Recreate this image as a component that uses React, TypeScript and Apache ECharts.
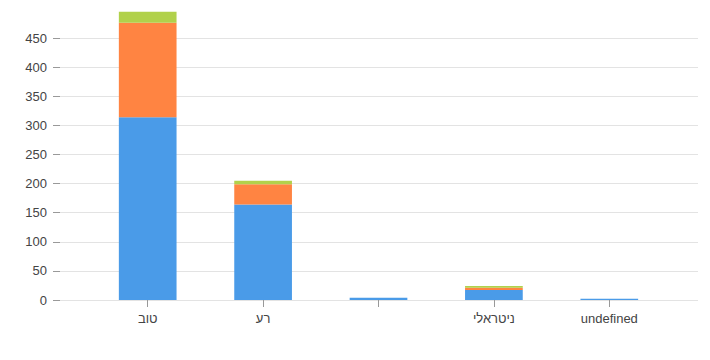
import React, { useEffect, useRef } from "react";
import * as echarts from "echarts";

const categories: string[] = ["טוב", "רע", "", "ניטראלי", "undefined"];
const seriesBlue: number[] = [314, 164, 4, 17, 2];
const seriesOrange: number[] = [162, 35, 0, 4, 0];
const seriesGreen: number[] = [19, 6, 0, 3, 0];
const yMax = 450;
const yInterval = 50;

export default function App() {
  const ref = useRef<HTMLDivElement>(null);
  useEffect(() => {
    if (!ref.current) return;
    const chart = echarts.init(ref.current, undefined, { renderer: "svg" });
    const font = "Arial, 'Liberation Sans', sans-serif";
    const barCommon = {
      type: "bar" as const,
      stack: "total",
      xAxisIndex: 1,
      yAxisIndex: 1,
      barWidth: "50%",
      clip: false,
    };
    chart.setOption({
      animation: false,
      grid: [
        { left: 52, right: 4, top: 30, bottom: 52 },
        { left: 82, right: 35, top: 30, bottom: 52 },
      ],
      xAxis: [
        { type: "value", gridIndex: 0, show: false, min: 0, max: 1 },
        {
          type: "category",
          gridIndex: 1,
          data: categories,
          axisLine: { show: false },
          axisTick: {
            show: true,
            alignWithLabel: true,
            length: 7,
            lineStyle: { color: "#999" },
          },
          axisLabel: { color: "#444", fontSize: 13, margin: 12, fontFamily: font },
        },
      ],
      yAxis: [
        {
          type: "value",
          gridIndex: 0,
          min: 0,
          max: yMax,
          interval: yInterval,
          axisLine: { show: false },
          axisTick: { show: true, length: 7, lineStyle: { color: "#999" } },
          axisLabel: { color: "#444", fontSize: 13, margin: 13, fontFamily: font },
          splitLine: { show: true, lineStyle: { color: "#e3e3e3", width: 1 } },
        },
        {
          type: "value",
          gridIndex: 1,
          min: 0,
          max: yMax,
          interval: yInterval,
          show: false,
          splitLine: { show: false },
        },
      ],
      series: [
        { ...barCommon, name: "blue", data: seriesBlue, itemStyle: { color: "#4A9BE8" } },
        { ...barCommon, name: "orange", data: seriesOrange, itemStyle: { color: "#FF8442" } },
        { ...barCommon, name: "green", data: seriesGreen, itemStyle: { color: "#B1D14B" } },
      ],
    });
    return () => chart.dispose();
  }, []);
  return <div ref={ref} style={{ width: 694, height: 344 }} />;
}
